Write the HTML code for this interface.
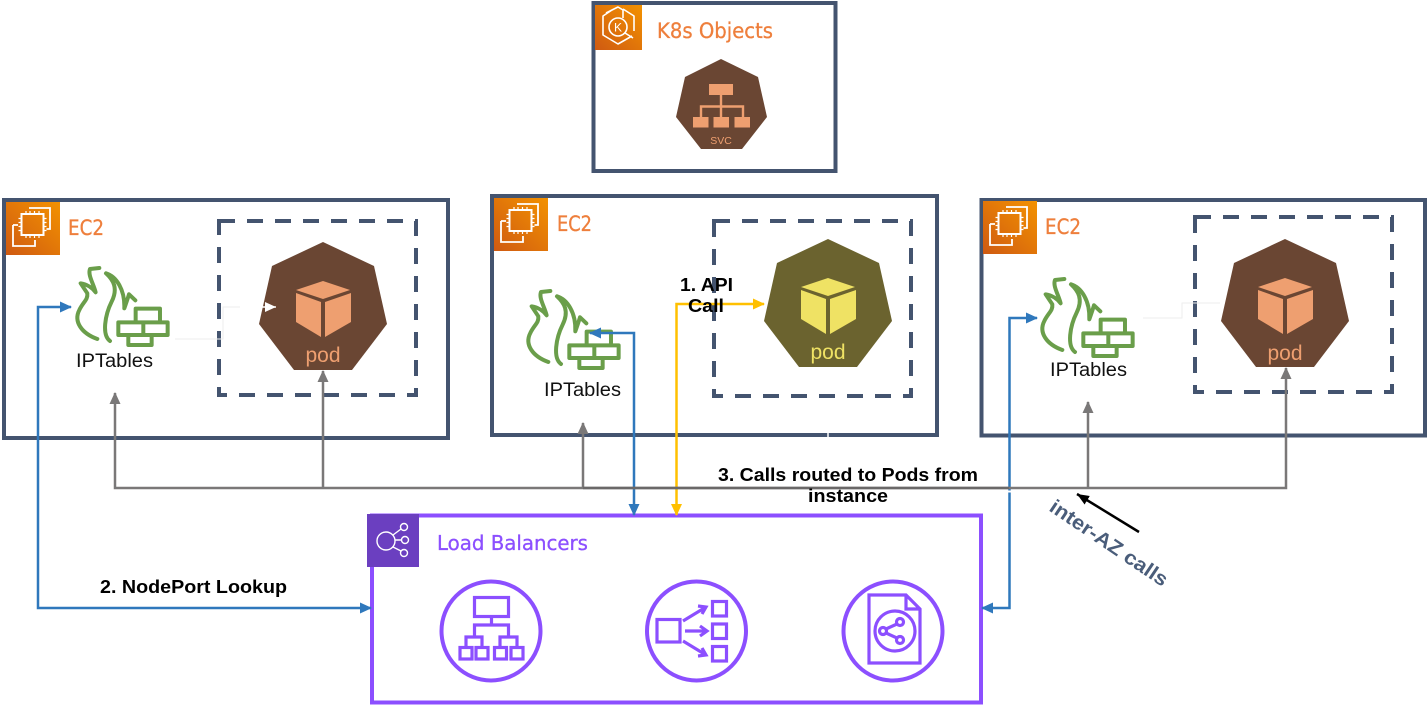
<!DOCTYPE html>
<html lang="en"><head><meta charset="utf-8"><title>Load Balancer NodePort</title>
<style>html,body{margin:0;padding:0;background:#fff}svg{display:block}</style></head>
<body>
<svg xmlns="http://www.w3.org/2000/svg" width="1428" height="705" viewBox="0 0 1428 705">
<defs>
<linearGradient id="org" x1="0" y1="1" x2="1" y2="0"><stop offset="0" stop-color="#cf5a12"/><stop offset="1" stop-color="#f39200"/></linearGradient>
<g id="fw" transform="translate(0,195) scale(.3333)" fill="none" stroke="#6a9e4a" stroke-width="12" stroke-linecap="round" stroke-linejoin="round">
<path d="M292 432C245 415 220 380 238 345C250 320 264 315 262 295L242 265C262 268 278 280 287 292C280 265 263 240 270 222L298 219"/>
<path d="M330 438C305 420 315 360 335 320C355 280 340 255 318 235C350 245 375 285 373 340C380 320 385 305 387 298L406 316"/>
<path d="M407 378V341H480V378M355 382H503V420H355ZM430 382V420M385 420V450H455V420"/>
</g>
<g id="chip" fill="none" stroke="#fff">
<rect x="15.500" y="12" width="22" height="21" stroke-width="2"/>
<path d="M20 9v3M24 9v3M28.500 9v3M33 9v3M20 33v3M24 33v3M28.500 33v3M33 33v3M12.500 16.500h3M12.500 20.500h3M12.500 24.500h3M12.500 28.500h3M37.500 16.500h3M37.500 20.500h3M37.500 24.500h3M37.500 28.500h3" stroke-width="1.200"/>
<path d="M23 6H44V27H40.500M7 23H12M7 23V44H29V38" stroke-width="1.800"/>
</g>
<g id="ec2"><rect width="54" height="53" fill="url(#org)"/><use href="#chip"/></g>
<g id="pod">
<polygon points="0,0 51,24 64,82 29,128 -29,128 -64,82 -51,24" />
</g>
<marker id="mb" markerUnits="userSpaceOnUse" markerWidth="13" markerHeight="12" refX="11" refY="5.500" orient="auto-start-reverse"><path d="M0 0L12 5.500L0 11Z" fill="#2f78bc"/></marker>
<marker id="my" markerUnits="userSpaceOnUse" markerWidth="13" markerHeight="12" refX="11" refY="5.500" orient="auto-start-reverse"><path d="M0 0L12 5.500L0 11Z" fill="#ffc000"/></marker>
<marker id="mg" markerUnits="userSpaceOnUse" markerWidth="13" markerHeight="12" refX="11" refY="5.500" orient="auto-start-reverse"><path d="M0 0L12 5.500L0 11Z" fill="#7a7878"/></marker>
<marker id="mk" markerUnits="userSpaceOnUse" markerWidth="13" markerHeight="12" refX="12" refY="5" orient="auto"><path d="M0 0L12 5L0 10Z" fill="#000"/></marker>
<marker id="mw" markerUnits="userSpaceOnUse" markerWidth="12" markerHeight="12" refX="11" refY="5" orient="auto"><path d="M0 0L11 5L0 10Z" fill="#fff"/></marker>
</defs>

<!-- K8s box -->
<rect x="593.500" y="3" width="242" height="168" fill="#fff" stroke="#44546f" stroke-width="4"/>
<rect x="595" y="5" width="47" height="45" fill="url(#org)"/>
<g fill="none" stroke="#fff" stroke-width="1.600" stroke-linejoin="round">
<path d="M612 10L603 16V35L618 44L632 36M623 9L634 16V31M606 13L618 7L623 10V18"/>
<circle cx="618" cy="27" r="9"/>
<path d="M625 33L633 38"/>
</g>
<text x="618" y="31.500" font-family="'Liberation Sans',sans-serif" font-size="12" fill="#fff" text-anchor="middle">K</text>
<text x="657" y="38" font-family="'DejaVu Sans',sans-serif" font-size="21" fill="#ee7f3c" stroke="#ee7f3c" stroke-width=".3" textLength="116" lengthAdjust="spacingAndGlyphs">K8s Objects</text>
<polygon points="721,59 758,77 767,117 742,149 701,149 676,117 685,77" fill="#6a4633"/>
<g fill="#ee9f70">
<rect x="709" y="84" width="24" height="11"/><rect x="693" y="117" width="15.500" height="10.500"/><rect x="713.500" y="117" width="15.500" height="10.500"/><rect x="734.500" y="117" width="15.500" height="10.500"/>
</g>
<path d="M721 95V117M701 117V106.500H743V117" fill="none" stroke="#ee9f70" stroke-width="2.400"/>
<text x="721" y="144" font-family="'Liberation Sans',sans-serif" font-size="10.500" fill="#ee9f70" text-anchor="middle">SVC</text>

<!-- EC2 boxes -->
<rect x="4" y="200" width="444" height="238" fill="#fff" stroke="#44546f" stroke-width="4"/>
<rect x="492" y="196" width="445" height="239" fill="#fff" stroke="#44546f" stroke-width="4"/>
<rect x="981.500" y="200" width="443.500" height="235.500" fill="#fff" stroke="#44546f" stroke-width="4"/>
<path d="M828 433V437" stroke="#fff" stroke-width="1.500"/>
<use href="#ec2" x="6" y="202"/><use href="#ec2" x="494" y="198"/><use href="#ec2" x="983" y="201"/>
<g font-family="'DejaVu Sans',sans-serif" font-size="21" fill="#ee7f3c" stroke="#ee7f3c" stroke-width=".3">
<text x="68" y="235" textLength="36" lengthAdjust="spacingAndGlyphs">EC2</text>
<text x="557" y="231" textLength="35" lengthAdjust="spacingAndGlyphs">EC2</text>
<text x="1045" y="234" textLength="36" lengthAdjust="spacingAndGlyphs">EC2</text>
</g>
<g fill="none" stroke="#44546f" stroke-width="4" stroke-dasharray="16 12">
<rect x="219" y="221" width="197" height="174"/>
<rect x="714" y="221" width="197" height="175"/>
<rect x="1195" y="217" width="197" height="175"/>
</g>

<!-- pods -->
<use href="#pod" x="323" y="242" fill="#6a4633"/>
<use href="#pod" x="828" y="239" fill="#6b632f"/>
<use href="#pod" x="1285" y="239" fill="#6a4633"/>
<g fill="#ee9f70">
<path d="M323 281L350 290L323 299L296 290Z M296 293L321 302V337L296 322Z M325 302L351 293V322L325 337Z"/>
<path d="M1285 278L1312 287L1285 296L1258 287Z M1258 290L1283 299V334L1258 319Z M1287 299L1313 290V319L1287 334Z"/>
</g>
<path d="M828 278L855 287L828 296L801 287Z M801 290L826 299V334L801 319Z M830 299L856 290V319L830 334Z" fill="#efe264"/>
<g font-family="'Liberation Sans',sans-serif" font-size="21" text-anchor="middle">
<text x="323" y="362" fill="#ee9f70">pod</text>
<text x="828" y="359" fill="#efe264">pod</text>
<text x="1285" y="360" fill="#ee9f70">pod</text>
</g>

<!-- firewalls -->
<use href="#fw"/>
<use href="#fw" x="451" y="23"/>
<use href="#fw" x="965" y="11"/>
<g font-family="'Liberation Sans',sans-serif" font-size="19" fill="#111">
<text x="76" y="367" textLength="77" lengthAdjust="spacingAndGlyphs">IPTables</text>
<text x="544" y="396" textLength="77" lengthAdjust="spacingAndGlyphs">IPTables</text>
<text x="1050" y="376" textLength="77" lengthAdjust="spacingAndGlyphs">IPTables</text>
</g>

<!-- faint arrows -->
<path d="M175 339H223V307H240" fill="none" stroke="#eeeeee" stroke-width="1"/>
<path d="M240 307H276" fill="none" stroke="#fff" stroke-width="1.500" marker-end="url(#mw)"/>
<path d="M1143 318H1182V303H1220" fill="none" stroke="#eeeeee" stroke-width="1"/>

<!-- LB box -->
<rect x="372" y="515.500" width="609" height="187" fill="#fff" stroke="#8c4fff" stroke-width="4"/>
<rect x="367" y="514" width="52" height="53" fill="#6b3fc0"/>
<g fill="none" stroke="#fff" stroke-width="1.400">
<circle cx="386" cy="541" r="9"/><circle cx="404" cy="527" r="3.500"/><circle cx="405" cy="540" r="3.500"/><circle cx="404" cy="553" r="3.500"/>
<path d="M393 535L401 529M395 540H401M393 547L401 551"/>
</g>
<text x="437" y="550" font-family="'DejaVu Sans',sans-serif" font-size="20.500" fill="#8c4fff" stroke="#8c4fff" stroke-width=".3" textLength="151" lengthAdjust="spacingAndGlyphs">Load Balancers</text>
<g fill="none" stroke="#8c4fff" stroke-width="4">
<circle cx="491" cy="631" r="49.500"/><circle cx="696.500" cy="631" r="49.500"/><circle cx="893" cy="631" r="49.500"/>
<g stroke-width="3.200">
<rect x="474.500" y="597.500" width="34" height="19"/>
<path d="M491.500 617V625M474.500 636V625H508.500V636M466 647V637H482V647M500 647V637H517V647"/>
<rect x="460" y="647.500" width="12" height="11.500"/><rect x="476" y="647.500" width="12" height="11.500"/><rect x="494.500" y="647.500" width="12" height="11.500"/><rect x="511" y="647.500" width="12" height="11.500"/>
<rect x="657" y="619.500" width="23" height="22.500"/>
<rect x="712.500" y="601.500" width="14" height="14.500"/><rect x="712.500" y="624" width="14" height="14.500"/><rect x="712.500" y="646.500" width="14" height="14.500"/>
<path d="M683 621L706 607M698 606L706 607L702 614M685 631H707M700 626L707 631L700 636M683 641L706 655M702 648L706 655L698 656"/>
<path d="M869 595H906L920 609V663H869ZM906 595V609H920"/>
<circle cx="895" cy="631" r="20"/>
<circle cx="900" cy="622" r="3.500"/><circle cx="883" cy="631" r="3.500"/><circle cx="900" cy="640" r="3.500"/>
<path d="M886 629L897 624M886 633L897 638"/>
</g>
</g>

<!-- connectors -->
<g fill="none" stroke-width="2.500">
<path d="M371 608H38V307H71" stroke="#2f78bc" marker-start="url(#mb)" marker-end="url(#mb)"/>
<path d="M590 333H634V515" stroke="#2f78bc" marker-start="url(#mb)" marker-end="url(#mb)"/>
<path d="M982 608H1009.500V318H1037" stroke="#2f78bc" marker-start="url(#mb)" marker-end="url(#mb)"/>
<path d="M764 304H676.500V515" stroke="#ffc000" marker-start="url(#my)" marker-end="url(#my)"/>
<g stroke="#7a7878">
<path d="M115 393V488H1286V368" marker-start="url(#mg)" marker-end="url(#mg)"/>
<path d="M323 371V488" marker-start="url(#mg)"/>
<path d="M583 423V488" marker-start="url(#mg)"/>
<path d="M1088 402V488" marker-start="url(#mg)"/>
<path d="M583 488H1009" stroke="#6a6868"/>
</g>
<path d="M1006 491.500H1013" stroke="#fff" stroke-width="2"/>
<path d="M1139 532L1077 494" stroke="#000" stroke-width="2.500" marker-end="url(#mk)"/>
</g>

<!-- labels -->
<g font-family="'Liberation Sans',sans-serif" font-weight="700" fill="#000" font-size="18">
<text x="680" y="291" textLength="53" lengthAdjust="spacingAndGlyphs">1. API</text>
<text x="688" y="312" textLength="36" lengthAdjust="spacingAndGlyphs">Call</text>
<text x="100" y="593" textLength="187" lengthAdjust="spacingAndGlyphs">2. NodePort Lookup</text>
<text x="718" y="481" textLength="260" lengthAdjust="spacingAndGlyphs">3. Calls routed to Pods from</text>
<text x="808" y="502" textLength="80" lengthAdjust="spacingAndGlyphs">instance</text>
</g>
<text transform="translate(1048,510) rotate(34)" font-family="'Liberation Sans',sans-serif" font-weight="700" font-size="20" fill="#4a5d7a" textLength="138" lengthAdjust="spacingAndGlyphs">inter-AZ calls</text>
</svg>
</body></html>
